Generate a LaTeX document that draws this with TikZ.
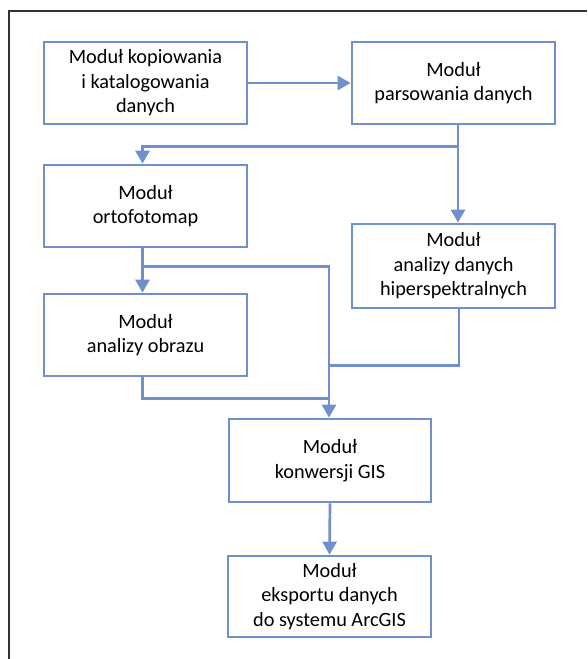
\documentclass[tikz,border=0pt]{standalone}
\usepackage{fontspec}
\setmainfont{Carlito}
\usetikzlibrary{arrows.meta}
\definecolor{boxblue}{RGB}{112,144,203}
\tikzset{
  modbox/.style={draw=boxblue, line width=2.7pt, minimum width=203pt, minimum height=82pt,
    align=center, inner sep=0pt, font=\fontsize{20.3}{24.5}\selectfont},
  conn/.style={draw=boxblue, line width=2.7pt},
  arr/.style={conn, -{Triangle[width=14pt,length=13pt]}}
}
\begin{document}
\begin{tikzpicture}[x=1pt,y=-1pt]
\useasboundingbox (0,0) rectangle (587,659);
\coordinate (ftl) at (9,11);
\coordinate (ftr) at (587,11);
\coordinate (fbl) at (9,659);
\draw[line width=1.2pt, black!80] (ftr) -- (ftl) -- (fbl);

\node[modbox] (b1) at (145.5,83) {Moduł kopiowania\\i katalogowania\\danych};
\node[modbox] (b2) at (453.5,83) {Moduł\\parsowania danych};
\node[modbox] (b3) at (145.5,206) {Moduł\\ortofotomap};
\node[modbox, minimum height=84pt] (b4) at (453.5,266) {Moduł\\analizy danych\\hiperspektralnych};
\node[modbox] (b5) at (145.5,335) {Moduł\\analizy obrazu};
\node[modbox, minimum width=202pt, minimum height=83pt] (b6) at (330,460.5) {Moduł\\konwersji GIS};
\node[modbox, minimum width=203pt, minimum height=81pt] (b7) at (329.5,596.5) {Moduł\\eksportu danych\\do systemu ArcGIS};

\draw[arr] (b1.east) -- (b2.west);

\coordinate (s2) at ([xshift=4.5pt]b2.south);
\coordinate (j1) at ([yshift=-21pt]s2);
\coordinate (n3) at ([xshift=-3pt]b3.north);
\draw[conn] (s2) -- (j1);
\draw[arr] (j1) -| (n3);
\draw[arr] (s2) -- (s2 |- b4.north);

\coordinate (s3) at ([xshift=-3pt]b3.south);
\coordinate (j2) at ([yshift=-18pt]s3);
\coordinate (n6) at ([xshift=-1pt]b6.north);
\draw[arr] (s3) -- ([xshift=-3pt]b5.north);
\draw[arr] (j2) -| (n6);

\coordinate (s4) at ([xshift=5.5pt]b4.south);
\coordinate (j4) at ([yshift=-56pt]s4);
\draw[conn] (s4) -- (j4) -- (j4 -| n6);

\coordinate (s5) at ([xshift=-3pt]b5.south);
\coordinate (j5) at ([yshift=-21pt]s5);
\draw[conn] (s5) -- (j5) -- (j5 -| n6);

\draw[arr] (b6.south) -- (b7.north);
\end{tikzpicture}
\end{document}
